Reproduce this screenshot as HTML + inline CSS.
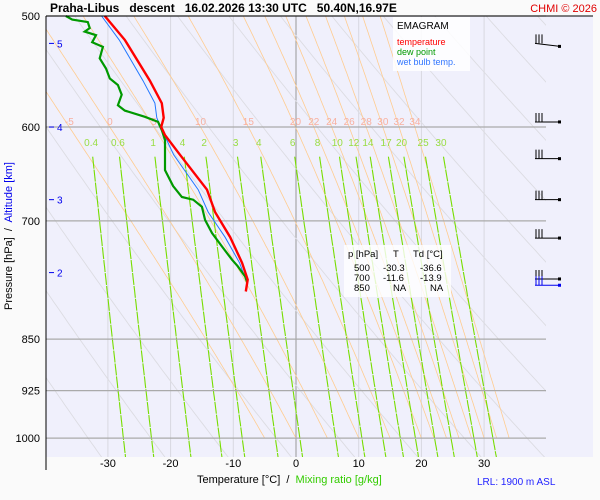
<!DOCTYPE html>
<html><head><meta charset="utf-8"><style>
body{margin:0;background:#fafafa;}
svg{display:block;font-family:"Liberation Sans",sans-serif;}
text{white-space:pre;}
</style></head><body>
<svg id="c" width="600" height="500" viewBox="0 0 600 500">
<rect x="0" y="0" width="600" height="500" fill="#fafafa"/>
<rect x="46" y="16" width="547" height="441" fill="#f0f0fc"/>
<g id="grid"></g>
<g id="prof"></g>
<line x1="46" y1="16" x2="593" y2="16" stroke="#000" stroke-width="1"/>
<line x1="46" y1="16" x2="46" y2="470" stroke="#000" stroke-width="1"/>
<text x="50" y="12" font-size="12" font-weight="bold">Praha-Libus   descent   16.02.2026 13:30 UTC   50.40N,16.97E</text>
<text x="597" y="12" font-size="11" fill="#e00000" text-anchor="end">CHMI © 2026</text>
<g>
<rect x="393" y="17" width="77" height="54" fill="#fff" opacity="0.85"/>
<text x="397" y="29" font-size="10">EMAGRAM</text>
<text x="397" y="45" font-size="9" fill="#ff0000">temperature</text>
<text x="397" y="55" font-size="9" fill="#009900">dew point</text>
<text x="397" y="65" font-size="9" fill="#3377ff">wet bulb temp.</text>
</g>
<g font-size="9.5">
<rect x="344" y="245" width="107" height="52" fill="#fff" opacity="0.8"/>
<text x="348" y="257">p [hPa]</text><text x="393" y="257">T</text><text x="413" y="257">Td [°C]</text>
<text x="354" y="271">500</text><text x="383" y="271">-30.3</text><text x="420" y="271">-36.6</text>
<text x="354" y="281">700</text><text x="383" y="281">-11.6</text><text x="420" y="281">-13.9</text>
<text x="354" y="291">850</text><text x="393" y="291">NA</text><text x="430" y="291">NA</text>
</g>
<text transform="translate(12,236) rotate(-90)" font-size="11" text-anchor="middle">Pressure [hPa]  /  <tspan fill="#0000ee">Altitude [km]</tspan></text>
<text x="197" y="483" font-size="11">Temperature [°C]  /  <tspan fill="#33cc00">Mixing ratio [g/kg]</tspan></text>
<text x="477" y="485" font-size="10" fill="#2222ff">LRL: 1900 m ASL</text>
</svg>
<script>
const pressureTicks=[500,600,700,850,925,1000];
const tempTicks=[-30,-20,-10,0,10,20,30];
const altKm=[5,4,3,2];
const altP=[523,600,676,762];
const mixRatios=[0.4,0.6,1,1.5,2,3,4,6,8,10,12,14,17,20,25,30];
const moistThetaW=[-5,0,5,10,15,20,22,24,26,28,30,32,34];
const tempP=[500,520,556,577,591,600,608,628,665,690,719,750,771,786];
const tempT=[-30.5,-27.3,-23.3,-21.4,-21.1,-21.5,-20.9,-18.5,-14.2,-12.9,-10.5,-8.6,-7.7,-8.0];
const dewP=[500,503,505,510,513,516,522,526,536,545,554,560,569,579,584,590,595,599,603,613,644,661,673,676,684,699,714,730,746,754,767,774];
const dewT=[-36.7,-35.7,-33.2,-32.9,-33.7,-31.9,-32.5,-30.8,-31.3,-30.3,-29.7,-28.4,-27.8,-28.4,-27.3,-24.1,-22.0,-21.7,-21.4,-20.9,-20.9,-19.6,-18.2,-16.4,-15.0,-14.5,-13.4,-11.8,-10.2,-9.3,-8.1,-7.8];
const wbP=[500,520,556,577,591,600,628,665,690,719,750,771];
const wbT=[-31.0,-28.2,-24.4,-22.5,-22.2,-21.6,-19.5,-15.6,-14.0,-11.3,-9.0,-8.0];
const windP=[523,595,632,676,720,770,778];

const NS="http://www.w3.org/2000/svg";
const X=t=>296+6.27*t;
const Y=p=>16+609*Math.log(p/500);
const PX0=46,PX1=546,PY1=457;
const G=document.getElementById('grid'),P=document.getElementById('prof');
function mk(tag,at,parent){const e=document.createElementNS(NS,tag);for(const k in at)e.setAttribute(k,at[k]);(parent||G).appendChild(e);return e;}
function poly(pts,st,parent){return mk('polyline',Object.assign({points:pts.map(q=>q[0].toFixed(1)+','+q[1].toFixed(1)).join(' '),fill:'none'},st),parent);}
const pList=[];for(let p=490;p<=1035;p+=5)pList.push(p);
const defs=mk('defs',{});const cp=mk('clipPath',{id:'pc'},defs);mk('rect',{x:46,y:16,width:500,height:441},cp);
const gg=mk('g',{'clip-path':'url(#pc)'});
for(let t=-40;t<=40;t+=10){const l=mk('line',{x1:X(t),y1:16,x2:X(t),y2:PY1,stroke:t===0?'#999':'#d8d8e0','stroke-width':1},gg);

}
for(let th=230;th<=470;th+=10){const pts=pList.map(p=>[X(th*Math.pow(p/1000,0.286)-273.15),Y(p)]);
const l=poly(pts,{stroke:'#dcdce2','stroke-width':0.9},gg);

}
function es(tc){return 6.112*Math.exp(17.67*tc/(tc+243.5));}
function moist(tw){const pts=[];let T=tw+273.15;let p=1000;pts.push([X(tw),Y(1000)]);
while(p>480){const e=es(T-273.15);const rs=0.622*e/(p-e);const Lv=2.5e6,Rd=287,cp=1004;
const dTdp=(Rd*T+Lv*rs)/(p*(cp+Lv*Lv*rs*0.622/(Rd*T*T)));const dp=-2;T+=dTdp*dp;p+=dp;pts.push([X(T-273.15),Y(p)]);}
return pts;}
function tAt(pts,y){for(let i=1;i<pts.length;i++){if(pts[i][1]<=y&&pts[i-1][1]>=y)return pts[i][0];}return null;}
moistThetaW.forEach(tw=>{const pts=moist(tw);const l=poly(pts,{stroke:'#ffcc90','stroke-width':0.8},gg);


const xl=tAt(pts,Y(600));if(xl!==null&&xl>46){const t=mk('text',{x:xl,y:125,'font-size':10,fill:'#f8b0a0','text-anchor':'middle'});t.textContent=tw;

}});
function tdw(w,p){const e=(w/1000)*p/(0.622+w/1000);const a=Math.log(e/6.112);return 243.5*a/(17.67-a);}
mixRatios.forEach(w=>{const pts=[];for(let p=630;p<=1035;p+=5)pts.push([X(tdw(w,p)),Y(p)]);
const l=poly(pts,{stroke:'#77dd00','stroke-width':1.1,'stroke-dasharray':'12,1'},gg);


const t=mk('text',{x:X(tdw(w,615)),y:146,'font-size':10,fill:'#99dd44','text-anchor':'middle'});t.textContent=(w===1.5?'4':w);

});
pressureTicks.forEach(p=>{const l=mk('line',{x1:46,y1:Y(p),x2:546,y2:Y(p),stroke:'#aaa','stroke-width':1.2});


const t=mk('text',{x:40,y:Y(p)+4,'font-size':11,'text-anchor':'end'});t.textContent=p;

});
tempTicks.forEach(v=>{const t=mk('text',{x:X(v),y:467,'font-size':11,'text-anchor':'middle'});t.textContent=v;

});
altKm.forEach((k,i)=>{const y=Y(altP[i]);mk('line',{x1:49,y1:y,x2:54,y2:y,stroke:'#0000ee'});
const t=mk('text',{x:57,y:y+4,'font-size':10,fill:'#0000ee'});t.textContent=k;

});
function prof(ps,ts,st,name){const l=poly(ps.map((p,i)=>[X(ts[i]),Y(p)]),st,P);

}
prof(wbP,wbT,{stroke:'#2277ff','stroke-width':1},'wet-bulb-line');
prof(dewP,dewT,{stroke:'#009900','stroke-width':2.2},'dew-point-line');
prof(tempP,tempT,{stroke:'#ff0000','stroke-width':2.4},'temperature-line');
windP.forEach((p,i)=>{const y=Y(p);const col=i===windP.length-1?'#0000ee':'#000';
const g=mk('g',{},P);


mk('line',{x1:535,y1:y,x2:560,y2:y+(i===0?3:0),stroke:col},g);
mk('rect',{x:558,y:y-1.5+(i===0?3:0),width:3,height:3,fill:col},g);
for(let b=0;b<3;b++)mk('line',{x1:536+b*3,y1:y,x2:536+b*3,y2:y-9,stroke:col},g);});
</script>
</body></html>
